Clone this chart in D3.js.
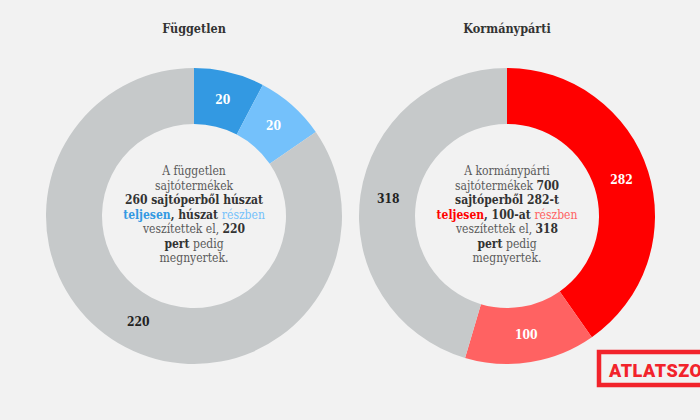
<!DOCTYPE html>
<html>
<head>
<meta charset="utf-8">
<script src="https://cdn.jsdelivr.net/npm/d3@7"></script>
<style>
  html, body { margin: 0; padding: 0; background: #f2f2f2; }
  svg { display: block; font-family: "DejaVu Serif Condensed", "DejaVu Serif", serif; }
</style>
</head>
<body>
<svg width="700" height="420"></svg>
<script>
// data
const titles = ["Független", "Kormánypárti"];
const fuggetlenValues = [20, 20, 220];
const kormanyValues = [282, 100, 318];

// center texts, one array per line, each piece = [text, kind]
const fuggetlenText = [
  [["A független", "n"]],
  [["sajtótermékek", "n"]],
  [["260 sajtóperből húszat", "b"]],
  [["teljesen", "b1"], [", húszat ", "b"], ["részben", "c2"]],
  [["veszítettek el, ", "n"], ["220", "b"]],
  [["pert", "b"], [" pedig", "n"]],
  [["megnyertek.", "n"]]
];
const kormanyText = [
  [["A kormánypárti", "n"]],
  [["sajtótermékek ", "n"], ["700", "b"]],
  [["sajtóperből 282-t", "b"]],
  [["teljesen", "b1"], [", 100-at ", "b"], ["részben", "c2"]],
  [["veszítettek el, ", "n"], ["318", "b"]],
  [["pert", "b"], [" pedig", "n"]],
  [["megnyertek.", "n"]]
];

const charts = [
  { title: titles[0], values: fuggetlenValues, text: fuggetlenText,
    colors: ["#3399e2", "#74c1fb", "#c6c9ca"], labelColors: ["#fff", "#fff", "#222"], cx: 194 },
  { title: titles[1], values: kormanyValues, text: kormanyText,
    colors: ["#ff0000", "#ff6262", "#c6c9ca"], labelColors: ["#fff", "#fff", "#222"], cx: 507 }
];

const svg = d3.select("svg");
const cy = 216, outerR = 148, innerR = 92;

const pie = d3.pie().sort(null).value(d => d);
const arc = d3.arc().innerRadius(innerR).outerRadius(outerR);

charts.forEach(function(c) {
  const g = svg.append("g").attr("transform", `translate(${c.cx},${cy})`);

  g.selectAll("path")
    .data(pie(c.values))
    .enter().append("path")
    .attr("d", arc)
    .attr("fill", (d, i) => c.colors[i]);

  g.selectAll("text.lbl")
    .data(pie(c.values))
    .enter().append("text")
    .attr("class", "lbl")
    .attr("transform", d => `translate(${arc.centroid(d)})`)
    .attr("text-anchor", "middle")
    .attr("dy", "0.35em")
    .attr("font-size", 12)
    .attr("font-weight", "bold")
    .attr("fill", (d, i) => c.labelColors[i])
    .text(d => d.data);

  svg.append("text")
    .attr("x", c.cx)
    .attr("y", 33)
    .attr("text-anchor", "middle")
    .attr("font-size", 12.5)
    .attr("font-weight", "bold")
    .attr("fill", "#333")
    .text(c.title);

  const styles = {
    n: { fill: "#5a5a5a", weight: "normal" },
    b: { fill: "#333", weight: "bold" },
    b1: { fill: c.colors[0], weight: "bold" },
    c2: { fill: c.colors[1], weight: "normal" }
  };

  c.text.forEach(function(line, li) {
    const t = g.append("text")
      .attr("x", 0)
      .attr("y", -41 + li * 14.5)
      .attr("text-anchor", "middle")
      .attr("font-size", 12);
    line.forEach(function(p) {
      t.append("tspan")
        .attr("fill", styles[p[1]].fill)
        .attr("font-weight", styles[p[1]].weight)
        .style("white-space", "pre")
        .text(p[0]);
    });
  });
});

// logo
svg.append("rect")
  .attr("x", 599).attr("y", 352)
  .attr("width", 120).attr("height", 33)
  .attr("fill", "none")
  .attr("stroke", "#f2232b")
  .attr("stroke-width", 4.5);
svg.append("text")
  .attr("x", 609).attr("y", 377)
  .attr("font-family", "Roboto, 'Liberation Sans', sans-serif")
  .attr("font-weight", 900)
  .attr("font-size", 18)
  .attr("letter-spacing", 0.5)
  .attr("fill", "#f2232b")
  .text("ATLATSZO");
</script>
</body>
</html>
